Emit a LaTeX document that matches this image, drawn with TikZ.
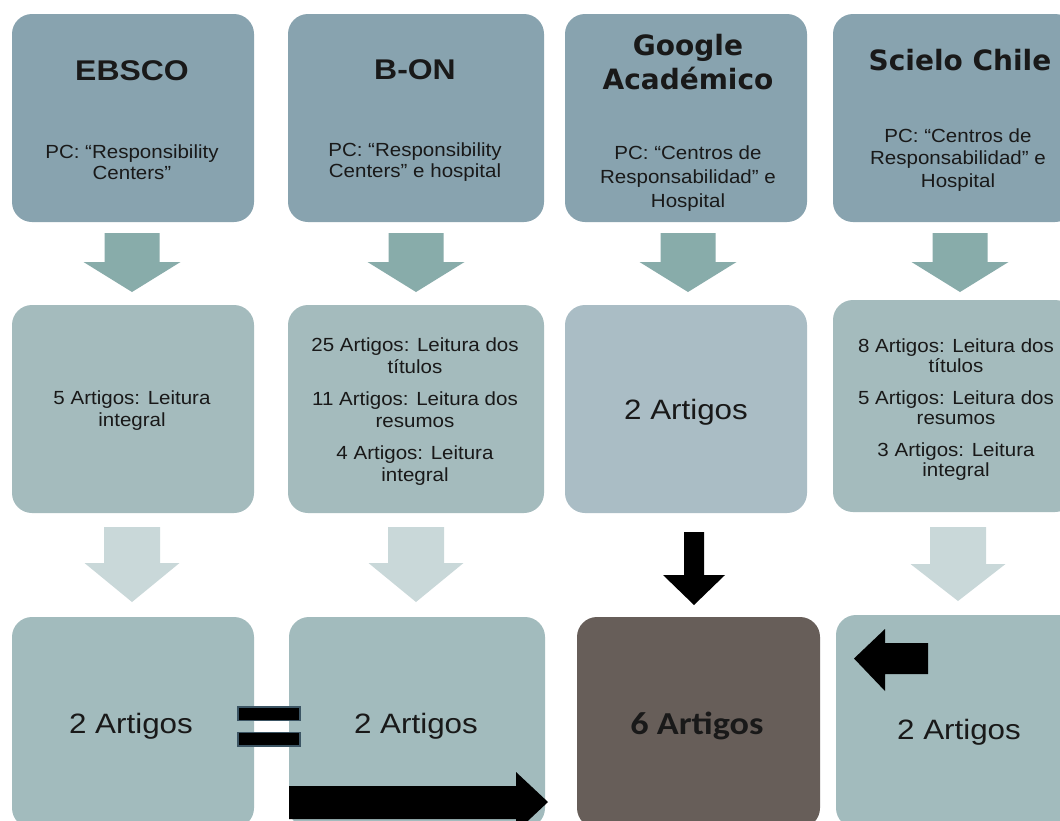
\documentclass[tikz,border=0pt]{standalone}
\usepackage{fontspec}
\setmainfont[FakeStretch=1.12]{Liberation Sans}
\newfontfamily\smallf[FakeStretch=1.08]{Liberation Sans}
\newfontfamily\dvfont{DejaVu Sans}
\newfontfamily\cafont[FakeStretch=1.13]{Carlito}
\definecolor{topc}{RGB}{136,163,175}
\definecolor{arrA}{RGB}{136,172,170}
\definecolor{midc}{RGB}{164,187,189}
\definecolor{midb}{RGB}{170,189,197}
\definecolor{arrB}{RGB}{201,216,217}
\definecolor{botc}{RGB}{162,187,189}
\definecolor{darkc}{RGB}{103,94,89}
\definecolor{txt}{RGB}{25,25,25}
\definecolor{eqedge}{RGB}{60,85,100}
\newcommand{\bdown}[7]{% style, cx, top, base, tip, halfshaft, halfhead
  \fill[#1] ({#2-#6},#3) -- ({#2+#6},#3) -- ({#2+#6},#4) -- ({#2+#7},#4) -- (#2,#5)
    -- ({#2-#7},#4) -- ({#2-#6},#4) -- cycle;}
\begin{document}
\begin{tikzpicture}[x=1pt,y=-1pt,
  box/.style={rectangle, rounded corners=20pt, inner sep=0pt, outer sep=0pt, draw=none},
  lbl/.style={align=center, inner sep=0pt, text=txt, font=\smallf\fontsize{19}{22}\selectfont},
  big/.style={align=center, inner sep=0pt, text=txt, font=\fontsize{28}{32}\selectfont},
  ttl/.style={align=center, inner sep=0pt, text=txt, font=\bfseries\fontsize{28.5}{32}\selectfont},
  dvttl/.style={align=center, inner sep=0pt, text=txt, font=\dvfont\bfseries\fontsize{28}{34}\selectfont}]
\clip (0,0) rectangle (1060,820);
\fill[white] (0,0) rectangle (1060,820);

% top row
\node[box, fill=topc, minimum width=242pt, minimum height=208pt] (t1) at (133,118) {};
\node[box, fill=topc, minimum width=256pt, minimum height=208pt] (t2) at (416,118) {};
\node[box, fill=topc, minimum width=242pt, minimum height=208pt] (t3) at (686,118) {};
\node[box, fill=topc, minimum width=242pt, minimum height=208pt] (t4) at (954,118) {};
% middle row
\node[box, fill=midc, minimum width=242pt, minimum height=208pt] (m1) at (133,409) {};
\node[box, fill=midc, minimum width=256pt, minimum height=208pt] (m2) at (416,409) {};
\node[box, fill=midb, minimum width=242pt, minimum height=208pt] (m3) at (686,409) {};
\node[box, fill=midc, minimum width=242pt, minimum height=212pt] (m4) at (954,406) {};
% bottom row
\node[box, fill=botc, minimum width=242pt, minimum height=211pt] (b1) at (133,722.5) {};
\node[box, fill=botc, minimum width=256pt, minimum height=211pt] (b2) at (417,722.5) {};
\node[box, fill=darkc, minimum width=243pt, minimum height=211pt] (b3) at (698.5,722.5) {};
\node[box, fill=botc, minimum width=242pt, minimum height=213pt] (b4) at (957,721.5) {};

% texts top
\node[ttl] (e1) at (132,71) {EBSCO};
\node[lbl, font=\smallf\fontsize{19}{21}\selectfont] (p1) at (132,162) {PC: “Responsibility\\Centers”};
\node[ttl] (e2) at (415,70) {B-ON};
\node[lbl, font=\smallf\fontsize{19}{21}\selectfont] (p2) at (415,162) {PC: “Responsibility\\Centers” e hospital};
\node[dvttl] (e3) at (688,62) {Google\\Académico};
\node[lbl, font=\smallf\fontsize{19}{24}\selectfont] (p3) at (688,179) {PC: “Centros de\\Responsabilidad” e\\Hospital};
\node[dvttl] (e4) at (960,60) {Scielo Chile};
\node[lbl, font=\smallf\fontsize{19}{22.5}\selectfont] (p4) at (958,160) {PC: “Centros de\\Responsabilidad” e\\Hospital};

% texts middle
\node[lbl] (n1) at (132,411) {5 Artigos: Leitura\\integral};
\node[lbl] (n2) at (415,412) {25 Artigos: Leitura dos\\títulos\\[10pt]11 Artigos:  Leitura dos\\resumos\\[10pt]4 Artigos: Leitura\\integral};
\node[big] (n3) at (686,412) {2 Artigos};
\node[lbl, font=\smallf\fontsize{19}{20}\selectfont] (n4) at (956,410) {8 Artigos: Leitura dos\\títulos\\[12pt]5 Artigos: Leitura dos\\resumos\\[12pt]3 Artigos: Leitura\\integral};

% texts bottom
\node[big] (r1) at (131,726) {2 Artigos};
\node[big] (r2) at (416,726) {2 Artigos};
\node[align=center, inner sep=0pt, text=txt, font=\cafont\bfseries\fontsize{32}{36}\selectfont] (r3) at (697,726) {6 Artigos};
\node[big] (r4) at (959,732) {2 Artigos};

% arrows row 1
\bdown{arrA}{132}{233}{262}{292}{27.5}{48.5}
\bdown{arrA}{416}{233}{262}{292}{27.5}{48.5}
\bdown{arrA}{688}{233}{262}{292}{27.5}{48.5}
\bdown{arrA}{960}{233}{262}{292}{27.5}{48.5}
% arrows row 2
\bdown{arrB}{132}{527}{563}{602}{28}{47.5}
\bdown{arrB}{416}{527}{563}{602}{28}{47.5}
\bdown{black}{694}{532}{575}{605}{10}{31}
\bdown{arrB}{958}{527}{564}{601}{28}{47.5}

% equal sign
\filldraw[fill=black, draw=eqedge, line width=1.2pt] (238,707) rectangle (300,720.5);
\filldraw[fill=black, draw=eqedge, line width=1.2pt] (238,732.5) rectangle (300,746);

% right black arrow
\fill[black] (289,786) -- (516,786) -- (516,772) -- (548,802) -- (516,832) -- (516,819) -- (289,819) -- cycle;
% left black arrow
\fill[black] (928,643) -- (885,643) -- (885,629) -- (854,658.5) -- (885,691) -- (885,674) -- (928,674) -- cycle;
\end{tikzpicture}
\end{document}
